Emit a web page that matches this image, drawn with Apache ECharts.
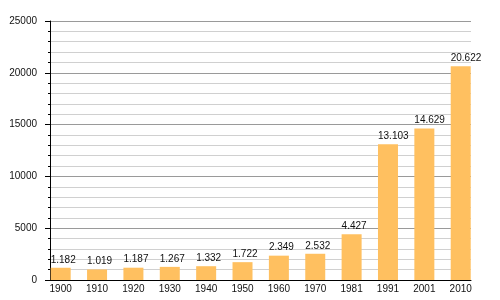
<!DOCTYPE html>
<html>
<head>
<meta charset="utf-8">
<script src="https://cdn.jsdelivr.net/npm/echarts@6/dist/echarts.min.js"></script>
<style>html,body{margin:0;padding:0;background:#fff}#c{width:500px;height:300px}</style>
</head>
<body>
<div id="c"></div>
<script>
const years = ['1900','1910','1920','1930','1940','1950','1960','1970','1981','1991','2001','2010'];
const population = [1182, 1019, 1187, 1267, 1332, 1722, 2349, 2532, 4427, 13103, 14629, 20622];
const yMin = 0, yMax = 25000, yInterval = 5000;

const font = '"Liberation Sans", Arial, Helvetica, sans-serif';
function fmt(v) { return String(v).replace(/\B(?=(\d{3})+(?!\d))/g, '.'); }

const chart = echarts.init(document.getElementById('c'), null, {renderer: 'canvas'});
chart.setOption({
  animation: false,
  backgroundColor: '#fff',
  grid: [
    {left: 50, right: 29, top: 21, height: 259},
    {left: 42.5, right: 21.1, top: 21, height: 259}
  ],
  xAxis: [
    {gridIndex: 0, type: 'value', min: 0, max: 1,
      axisLine: {show: true, lineStyle: {color: '#000', width: 1}},
      axisTick: {show: false}, axisLabel: {show: false}, splitLine: {show: false}},
    {gridIndex: 1, type: 'category', data: years, boundaryGap: true,
      axisLine: {show: false}, axisTick: {show: false},
      axisLabel: {color: '#111', fontSize: 10, fontFamily: font, margin: 4, interval: 0}}
  ],
  yAxis: [
    {gridIndex: 0, type: 'value', min: yMin, max: yMax, interval: yInterval,
      axisLine: {show: true, lineStyle: {color: '#000', width: 1}},
      axisTick: {show: true, length: 5, lineStyle: {color: '#000'}},
      minorTick: {show: true, splitNumber: 5, length: 2, lineStyle: {color: '#000'}},
      axisLabel: {color: '#111', fontSize: 10, fontFamily: font, margin: 13, formatter: v => String(v)},
      splitLine: {show: true, lineStyle: {color: '#9a9a9a', width: 1}},
      minorSplitLine: {show: true, lineStyle: {color: '#d0d0d0', width: 1}}},
    {gridIndex: 1, type: 'value', min: yMin, max: yMax, show: false, splitLine: {show: false}}
  ],
  series: [{
    type: 'bar',
    xAxisIndex: 1, yAxisIndex: 1,
    data: population,
    barWidth: 20,
    itemStyle: {color: '#FFC060'},
    label: {show: true, position: 'top', align: 'left', offset: [-10, 0], distance: 3,
      color: '#111', fontSize: 10, fontFamily: font, formatter: p => fmt(p.value)}
  }]
});
</script>
</body>
</html>
